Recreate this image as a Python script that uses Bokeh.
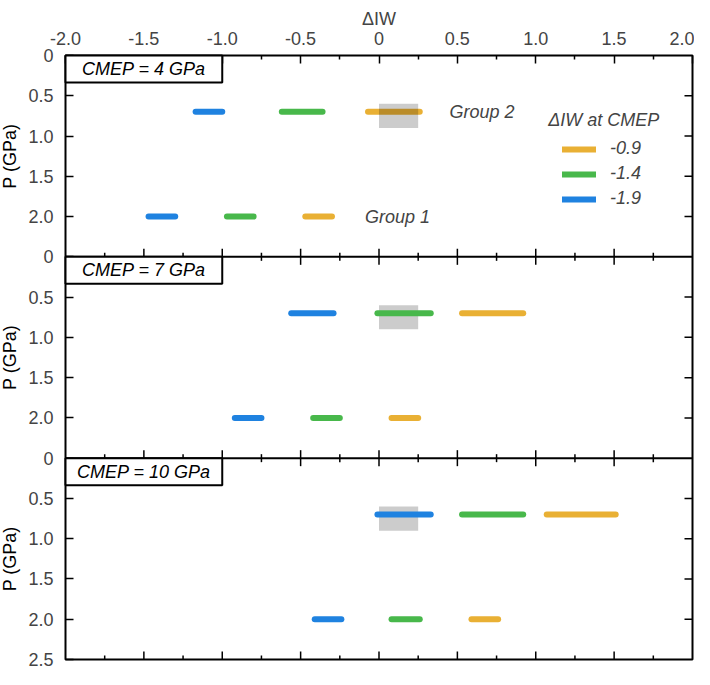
import math
from bokeh.plotting import figure
from bokeh.layouts import row
from bokeh.models import (ColumnDataSource, Range1d, FixedTicker, Span, Label,
                          Legend, LegendItem)
from bokeh.core.properties import value
from bokeh.embed import file_html
from bokeh.resources import INLINE

FONT = "Liberation Sans"
FS = "18px"
BLUE = "#1f82e0"
GREEN = "#48b84b"
ORANGE = "#e9b034"

# axis ticks
x_ticks = [-2.0, -1.5, -1.0, -0.5, 0.0, 0.5, 1.0, 1.5, 2.0]
x_tick_labels = ["-2.0", "-1.5", "-1.0", "-0.5", "0", "0.5", "1.0", "1.5", "2.0"]
x_minor_ticks = [-1.75, -1.25, -0.75, -0.25, 0.25, 0.75, 1.25, 1.75]
p_ticks = [0.0, 0.5, 1.0, 1.5, 2.0]
p_tick_labels = ["0", "0.5", "1.0", "1.5", "2.0"]
p_max = 2.5

# panels
cmep_labels = ["CMEP = 4 GPa", "CMEP = 7 GPa", "CMEP = 10 GPa"]

# one segment per (panel, group): group 2 at 0.7 GPa, group 1 at 2.0 GPa
seg_panel = [0, 0, 1, 1, 2, 2]
seg_p = [0.7, 2.0, 0.7, 2.0, 0.7, 2.0]
blue_x0 = [-1.17, -1.47, -0.56, -0.92, -0.01, -0.41]
blue_x1 = [-1.00, -1.30, -0.29, -0.75, 0.33, -0.24]
green_x0 = [-0.62, -0.97, -0.01, -0.42, 0.53, 0.08]
green_x1 = [-0.36, -0.80, 0.33, -0.25, 0.92, 0.26]
orange_x0 = [-0.07, -0.47, 0.53, 0.08, 1.07, 0.59]
orange_x1 = [0.26, -0.30, 0.92, 0.25, 1.51, 0.76]

legend_labels = ["-0.9", "-1.4", "-1.9"]

# shaded reference box (same in every panel)
box_x = [0.0, 0.25]
box_p = [0.6, 0.9]

W, H = 694, 669
LAB_W = 22
B_LEFT, B_RIGHT, B_TOP, B_BOTTOM = 43, 2, 55, 10
n_pan = len(cmep_labels)
y_max = p_max * n_pan
px_y = (H - B_TOP - B_BOTTOM) / y_max
px_x = (W - LAB_W - B_LEFT - B_RIGHT) / (x_ticks[-1] - x_ticks[0])

p = figure(width=W - LAB_W, height=H, x_range=Range1d(x_ticks[0], x_ticks[-1]),
           y_range=Range1d(y_max, 0), x_axis_location="above",
           output_backend="svg", toolbar_location=None,
           min_border_left=B_LEFT, min_border_right=B_RIGHT,
           min_border_top=B_TOP, min_border_bottom=B_BOTTOM)
p.grid.visible = False
p.outline_line_color = "black"
p.outline_line_width = 2

# top x axis
xa = p.xaxis[0]
xa.ticker = FixedTicker(ticks=x_ticks, minor_ticks=x_minor_ticks)
xa.major_label_overrides = dict(zip(x_ticks, x_tick_labels))
xa.axis_label = "ΔIW"
xa.axis_label_text_font = FONT
xa.axis_label_text_font_size = FS
xa.axis_label_text_font_style = "normal"
xa.axis_label_standoff = 0
xa.major_label_text_font = FONT
xa.major_label_text_font_size = FS
xa.major_label_standoff = 11
xa.axis_line_color = None
xa.major_tick_in = 8
xa.major_tick_out = 0
xa.minor_tick_in = 4
xa.minor_tick_out = 0
xa.major_tick_line_width = 1.5
xa.minor_tick_line_width = 1.5

# left y axis, one 0-2.5 GPa scale per panel
y_ticks = [t + p_max * k for k in range(n_pan) for t in p_ticks] + [y_max]
y_labels = p_tick_labels * n_pan + [f"{p_max:.1f}"]
ya = p.yaxis[0]
ya.ticker = FixedTicker(ticks=y_ticks, minor_ticks=[])
ya.major_label_overrides = dict(zip(y_ticks, y_labels))
ya.major_label_text_font = FONT
ya.major_label_text_font_size = FS
ya.major_label_standoff = 12
ya.axis_line_color = None
ya.major_tick_in = 8
ya.major_tick_out = 0
ya.major_tick_line_width = 1.5

# panel separators
for k in range(1, n_pan):
    p.add_layout(Span(location=p_max * k, dimension="width",
                      line_color="black", line_width=2))

# tick marks on the separators, bottom and right edge
lmaj, lmin, ly = 8 / px_y, 4 / px_y, 8 / px_x
tx0, tx1, ty0, ty1 = [], [], [], []
for k in range(1, n_pan + 1):
    b = p_max * k
    inner = k < n_pan
    for t in x_ticks[1:-1]:
        tx0.append(t); tx1.append(t)
        ty0.append(b - lmaj); ty1.append(b + (lmaj if inner else 0))
    for t in x_minor_ticks:
        tx0.append(t); tx1.append(t)
        ty0.append(b - lmin); ty1.append(b + (lmin if inner else 0))
for k in range(n_pan):
    for t in p_ticks[1:]:
        tx0.append(x_ticks[-1] - ly); tx1.append(x_ticks[-1])
        ty0.append(t + p_max * k); ty1.append(t + p_max * k)
p.segment(x0=tx0, y0=ty0, x1=tx1, y1=ty1, line_color="black", line_width=1.5)


# shaded boxes: under the line in panels 2-3, over it in panel 1
def box_source(panels):
    return ColumnDataSource(dict(
        left=[box_x[0]] * len(panels), right=[box_x[1]] * len(panels),
        top=[box_p[0] + p_max * k for k in panels],
        bottom=[box_p[1] + p_max * k for k in panels]))


p.quad(source=box_source([1, 2]), left="left", right="right", top="top",
       bottom="bottom", fill_color="black", fill_alpha=0.2, line_color=None)

seg_y = [pp + p_max * k for pp, k in zip(seg_p, seg_panel)]
renderers = {}
for name, x0, x1, col in [("blue", blue_x0, blue_x1, BLUE),
                          ("green", green_x0, green_x1, GREEN),
                          ("orange", orange_x0, orange_x1, ORANGE)]:
    src = ColumnDataSource(dict(x0=x0, x1=x1, y=seg_y))
    renderers[name] = p.segment(x0="x0", y0="y", x1="x1", y1="y", source=src,
                                line_color=col, line_width=6, line_cap="round")

p.quad(source=box_source([0]), left="left", right="right", top="top",
       bottom="bottom", fill_color="black", fill_alpha=0.2, line_color=None)

# panel title boxes (drawn above the axis ticks)
tag_h = 27 / px_y
p.quad(left=[x_ticks[0]] * n_pan, right=[-1.0] * n_pan,
       top=[p_max * k for k in range(n_pan)],
       bottom=[p_max * k + tag_h for k in range(n_pan)],
       fill_color="white", line_color="black", line_width=2, level="overlay")
p.text(x=[-1.5] * n_pan, y=[p_max * k + tag_h / 2 for k in range(n_pan)],
       text=cmep_labels, text_align="center", text_baseline="middle",
       text_font=value(FONT), text_font_size=FS, text_font_style="italic",
       text_color="black", level="overlay")

for txt, gx, gy in [("Group 2", 0.45, 0.7), ("Group 1", -0.09, 2.0)]:
    p.add_layout(Label(x=gx, y=gy, text=txt, text_baseline="middle",
                       text_font=FONT, text_font_size=FS,
                       text_font_style="italic"))

p.add_layout(Label(x=1.08, y=0.80, text="ΔIW at CMEP", text_baseline="middle",
                   text_font=FONT, text_font_size=FS,
                   text_font_style="italic"))

legend = Legend(items=[LegendItem(label=legend_labels[0], renderers=[renderers["orange"]]),
                       LegendItem(label=legend_labels[1], renderers=[renderers["green"]]),
                       LegendItem(label=legend_labels[2], renderers=[renderers["blue"]])],
                location=(497, 450), glyph_width=34, glyph_height=20, spacing=4,
                padding=0, margin=0, label_standoff=14, border_line_color=None,
                background_fill_alpha=0, label_text_font=FONT,
                label_text_font_size=FS, label_text_font_style="italic")
p.add_layout(legend)

# y axis titles, one per panel, in a narrow strip sharing the y range
lab = figure(width=LAB_W, height=H, x_range=Range1d(0, 1), y_range=p.y_range,
             x_axis_type=None, y_axis_type=None, output_backend="svg",
             toolbar_location=None, min_border_left=0, min_border_right=0,
             min_border_top=B_TOP, min_border_bottom=B_BOTTOM)
lab.grid.visible = False
lab.outline_line_color = None
lab.text(x=[0.45] * n_pan, y=[p_max * (k + 0.5) for k in range(n_pan)],
         text=["P (GPa)"] * n_pan, angle=math.pi / 2, text_align="center",
         text_baseline="middle", text_font=value(FONT), text_font_size=FS,
         text_color="black")

open("out.html", "w").write(file_html(row(lab, p), INLINE))
